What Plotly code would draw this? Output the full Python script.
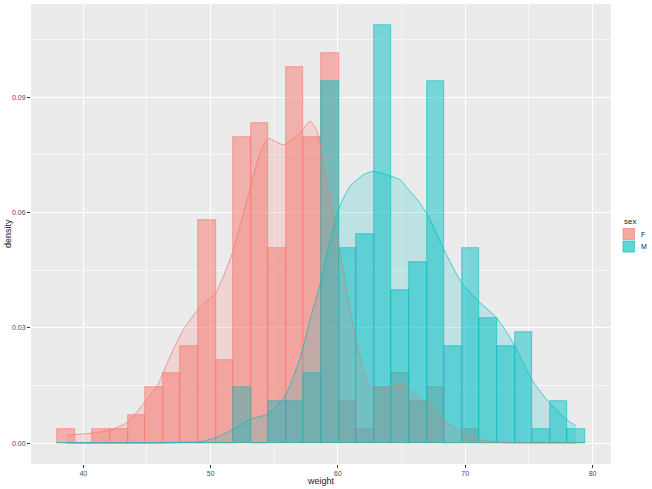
import plotly.graph_objects as go

# ---- data ----
bin_centers = [38.65, 40.03, 41.41, 42.79, 44.17, 45.56, 46.94, 48.32, 49.70, 51.08,
               52.46, 53.84, 55.22, 56.60, 57.98, 59.37, 60.75, 62.13, 63.51, 64.89,
               66.27, 67.65, 69.03, 70.41, 71.79, 73.18, 74.56, 75.94, 77.32, 78.70]
bin_width = 1.381
n_per_group = 200

counts_F = [1, 0, 1, 1, 2, 4, 5, 7, 16, 6,
            22, 23, 14, 27, 22, 28, 3, 1, 4, 5,
            3, 4, 0, 1, 0, 0, 0, 0, 0, 0]
counts_M = [0, 0, 0, 0, 0, 0, 0, 0, 0, 0,
            4, 0, 3, 3, 5, 26, 14, 15, 30, 11,
            13, 26, 7, 14, 9, 7, 8, 1, 3, 1]

dens_F_x = [38.65, 39.32, 40.66, 42.10, 43.46, 44.85, 45.77, 46.81, 47.86, 48.99,
            49.95, 50.40, 51.70, 53.15, 53.88, 54.53, 55.71, 57.02, 57.81, 58.33,
            58.59, 59.12, 59.64, 60.03, 60.42, 60.95, 61.48, 62.00, 62.52, 63.31,
            64.08, 65.01, 66.19, 67.24, 68.55, 69.85, 71.16, 72.97, 75.87, 78.70]
dens_F_y = [0.0020, 0.0022, 0.0026, 0.0034, 0.0054, 0.0108, 0.0147, 0.0225, 0.0295, 0.0347,
            0.0377, 0.0390, 0.0494, 0.0668, 0.0754, 0.0792, 0.0776, 0.0806, 0.0837, 0.0815,
            0.0780, 0.0676, 0.0589, 0.0520, 0.0451, 0.0347, 0.0260, 0.0191, 0.0147, 0.0139,
            0.0147, 0.0152, 0.0121, 0.0095, 0.0052, 0.0026, 0.0009, 0.0001, 0.0000, 0.0000]

dens_M_x = [38.65, 46.00, 47.86, 49.30, 50.60, 51.80, 53.10, 54.50, 55.80, 57.02,
            57.81, 58.59, 60.03, 60.95, 62.00, 62.78, 64.17, 64.88, 65.56, 66.45,
            67.24, 68.34, 69.73, 71.08, 72.48, 73.78, 75.22, 76.53, 77.97, 78.70]
dens_M_y = [0.0000, 0.0000, 0.0002, 0.0004, 0.0017, 0.0037, 0.0062, 0.0076, 0.0120, 0.0220,
            0.0321, 0.0412, 0.0607, 0.0668, 0.0698, 0.0707, 0.0694, 0.0685, 0.0659, 0.0624,
            0.0581, 0.0503, 0.0416, 0.0368, 0.0325, 0.0260, 0.0165, 0.0108, 0.0061, 0.0045]

groups = ["F", "M"]
x_ticks = [40, 50, 60, 70, 80]
y_ticks = [0.00, 0.03, 0.06, 0.09]

# ---- styling ----
col = {"F": "#F8766D", "M": "#00BFC4"}
rgb = {"F": "248,118,109", "M": "0,191,196"}
counts = {"F": counts_F, "M": counts_M}
dens = {"F": (dens_F_x, dens_F_y), "M": (dens_M_x, dens_M_y)}

fig = go.Figure()
for g in groups:
    dvals = [c / (n_per_group * bin_width) for c in counts[g]]
    fig.add_trace(go.Bar(
        x=bin_centers, y=dvals, width=bin_width,
        marker=dict(color=f"rgba({rgb[g]},0.5)", line=dict(color=col[g], width=0.6)),
        showlegend=False, hoverinfo="skip"))
for g in groups:
    xs, ys = dens[g]
    fig.add_trace(go.Scatter(
        x=xs, y=ys, mode="lines", fill="tozeroy",
        fillcolor=f"rgba({rgb[g]},0.2)",
        line=dict(color=col[g], width=0.7, shape="spline", smoothing=0.6),
        showlegend=False, hoverinfo="skip"))

# legend and axis titles drawn manually (ggplot style)
L, R, T, B = 31, 41, 4, 25
W, H = 652, 489
pw, ph = W - L - R, H - T - B
def px(x): return (x - L) / pw
def py(y): return (H - B - y) / ph

shapes = []
annotations = [
    dict(x=px(622), y=py(221), xref="paper", yref="paper", text="sex",
         showarrow=False, xanchor="left", yanchor="middle",
         font=dict(size=8, color="#222222")),
    dict(x=px(321), y=py(481), xref="paper", yref="paper", text="weight",
         showarrow=False, xanchor="center", yanchor="middle",
         font=dict(size=9, color="#222222")),
    dict(x=px(8), y=py(234), xref="paper", yref="paper", text="density",
         showarrow=False, xanchor="center", yanchor="middle", textangle=-90,
         font=dict(size=9, color="#222222")),
]
for i, g in enumerate(groups):
    y0 = 228 + i * 12.5
    shapes.append(dict(type="rect", xref="paper", yref="paper",
                       x0=px(622.5), x1=px(635), y0=py(y0), y1=py(y0 + 12),
                       fillcolor="#F2F2F2", line=dict(width=0)))
    shapes.append(dict(type="rect", xref="paper", yref="paper",
                       x0=px(623), x1=px(634.5), y0=py(y0 + 0.5), y1=py(y0 + 11.5),
                       fillcolor=f"rgba({rgb[g]},0.6)", line=dict(color=col[g], width=0.6)))
    annotations.append(dict(x=px(639), y=py(y0 + 6), xref="paper", yref="paper", text=g,
                            showarrow=False, xanchor="left", yanchor="middle",
                            font=dict(size=7, color="#222222")))

fig.update_layout(
    width=W, height=H, margin=dict(l=L, r=R, t=T, b=B, autoexpand=False),
    paper_bgcolor="white", plot_bgcolor="#EBEBEB",
    barmode="overlay", bargap=0,
    font=dict(family="Liberation Sans, Arial, sans-serif", color="#4D4D4D"),
    shapes=shapes, annotations=annotations,
    xaxis=dict(range=[35.89, 81.45], tickvals=x_ticks, ticks="outside", ticklen=3,
               tickcolor="#333333", tickwidth=0.7, tickfont=dict(size=7, color="#4D4D4D"),
               showgrid=True, gridcolor="white", gridwidth=1, zeroline=False,
               automargin=False,
               minor=dict(tickvals=[35, 45, 55, 65, 75], showgrid=True,
                          gridcolor="#F7F7F7", gridwidth=0.5, ticks="")),
    yaxis=dict(range=[-0.00544, 0.1142], tickvals=y_ticks, tickformat=".2f",
               ticks="outside", ticklen=3, tickcolor="#333333", tickwidth=0.7,
               tickfont=dict(size=7, color="#4D4D4D"),
               showgrid=True, gridcolor="white", gridwidth=1, zeroline=False,
               automargin=False,
               minor=dict(tickvals=[0.015, 0.045, 0.075, 0.105], showgrid=True,
                          gridcolor="#F7F7F7", gridwidth=0.5, ticks="")),
)

fig.write_html("out.html", config={"displayModeBar": False},
               post_script="document.body.style.margin='0';document.body.style.overflow='hidden';")
